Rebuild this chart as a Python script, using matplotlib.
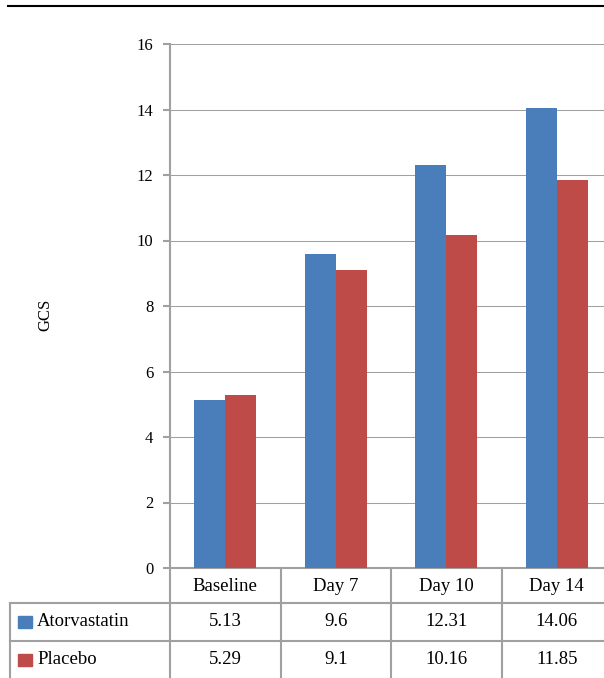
import matplotlib.pyplot as plt
from matplotlib.transforms import blended_transform_factory

categories = ['Baseline', 'Day 7', 'Day 10', 'Day 14']
series_names = ['Atorvastatin', 'Placebo']
atorvastatin = [5.13, 9.6, 12.31, 14.06]
placebo = [5.29, 9.1, 10.16, 11.85]
atorvastatin_labels = ['5.13', '9.6', '12.31', '14.06']
placebo_labels = ['5.29', '9.1', '10.16', '11.85']
yticks = [0, 2, 4, 6, 8, 10, 12, 14, 16]

blue = '#4a7ebb'
red = '#be4b48'
grid = '#a0a0a0'

plt.rcParams['font.family'] = ['Liberation Serif', 'DejaVu Serif']
tsize = 13.5

W, H = 604, 678
fig = plt.figure(figsize=(W / 100, H / 100), dpi=100)

# main plot area (right part runs off the figure edge like the original)
left, right, top, bottom = 170, 612, 44, 568
ax = fig.add_axes([left / W, 1 - bottom / H, (right - left) / W, (bottom - top) / H])
x = range(len(categories))
bw = 0.28
ax.bar([i - bw / 2 for i in x], atorvastatin, width=bw, color=blue, zorder=3)
ax.bar([i + bw / 2 for i in x], placebo, width=bw, color=red, zorder=3)
ax.set_xlim(-0.5, len(categories) - 0.5)
ax.set_ylim(0, 16)
ax.set_yticks(yticks)
ax.set_xticks([])
ax.yaxis.grid(True, color=grid, linewidth=0.75, zorder=0)
for s in ['top', 'right']:
    ax.spines[s].set_visible(False)
for s in ['left', 'bottom']:
    ax.spines[s].set_color(grid)
    ax.spines[s].set_linewidth(1.5)
ax.tick_params(axis='y', length=5, width=1.5, color=grid, pad=7, labelsize=12)
ax.set_axisbelow(True)

# overlay in pixel coordinates for the data table and rules
ov = fig.add_axes([0, 0, 1, 1], facecolor='none')
ov.set_xlim(0, W)
ov.set_ylim(H, 0)
ov.axis('off')

ov.plot([8, W], [6, 6], color='black', linewidth=1.5)
ov.text(45, 315, 'GCS', rotation=90, ha='center', va='center', fontsize=12)

bt = blended_transform_factory(ax.transData, ov.transData)
row_y = [568, 603, 641, 680]
# horizontal rules
ov.plot([10, W], [row_y[1], row_y[1]], color=grid, linewidth=1.5)
ov.plot([10, W], [row_y[2], row_y[2]], color=grid, linewidth=1.5)
ov.plot([10, 10], [row_y[1], H], color=grid, linewidth=1.5)
# vertical rules between categories
for i in range(len(categories)):
    ov.plot([i - 0.5, i - 0.5], [row_y[0], H], color=grid, linewidth=1.5,
            transform=bt)

for i, c in enumerate(categories):
    ov.text(i, (row_y[0] + row_y[1]) / 2 + 1, c, ha='center', va='center',
            fontsize=tsize, transform=bt)
    ov.text(i, (row_y[1] + row_y[2]) / 2, atorvastatin_labels[i], ha='center',
            va='center', fontsize=tsize, transform=bt)
    ov.text(i, (row_y[2] + row_y[3]) / 2 - 1, placebo_labels[i], ha='center',
            va='center', fontsize=tsize, transform=bt)

for k, (name, col) in enumerate(zip(series_names, [blue, red])):
    yc = (row_y[k + 1] + row_y[k + 2]) / 2 - (1 if k else 0)
    ov.add_patch(plt.Rectangle((18, yc - 6), 14, 12, color=col))
    ov.text(37, yc, name, ha='left', va='center', fontsize=tsize)

fig.savefig('out.png', dpi=100)
